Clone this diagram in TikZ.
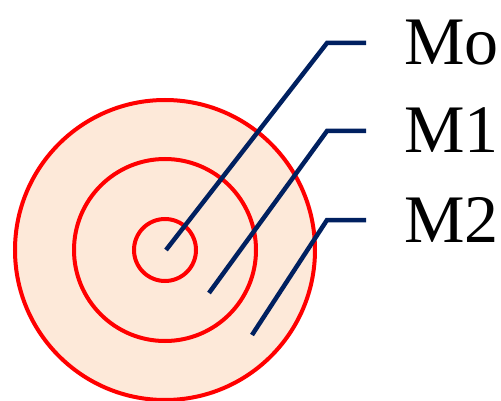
\documentclass[tikz,border=0pt]{standalone}
\usepackage{fontspec}
\setmainfont{Liberation Serif}
\usetikzlibrary{positioning}
\definecolor{RingRed}{HTML}{FF0000}
\definecolor{RingFill}{HTML}{FDE9D9}
\definecolor{LeaderNavy}{HTML}{002060}
\tikzset{
    % Ring styles
    ring/.style={
        circle,
        draw=RingRed,
        line width=4pt,
        inner sep=0pt
    },
    % Leader line style
    leader/.style={
        draw=LeaderNavy,
        line width=4.5pt
    },
    % Label style
    layerlabel/.style={
        font=\fontsize{68}{80}\selectfont,
        anchor=base west,
        inner sep=0pt
    }
}
\begin{document}
\begin{tikzpicture}[x=1pt,y=-1pt]
    \useasboundingbox (0,0) rectangle (501,401);

    % Rings
    \node[ring,fill=RingFill,minimum size=300pt] (outer) at (165,250) {};
    \node[ring,minimum size=182pt] (middle) at (165,250) {};
    \node[ring,minimum size=62pt] (inner) at (165,250) {};

    % Labels
    \node[layerlabel] (labMo) at (404,65) {Mo};
    \node[layerlabel] (labMone) at (404,153) {M1};
    \node[layerlabel] (labMtwo) at (404,242) {M2};

    % Leader points
    \coordinate (tipMo) at (166,250);
    \coordinate (bendMo) at (327,43);
    \coordinate (endMo) at (366,43);
    \coordinate (tipMone) at (209,293);
    \coordinate (bendMone) at (327,131);
    \coordinate (endMone) at (366,131);
    \coordinate (tipMtwo) at (252,335);
    \coordinate (bendMtwo) at (327,220);
    \coordinate (endMtwo) at (366,220);

    % Leaders
    \draw[leader] (tipMo) -- (bendMo) -- (endMo);
    \draw[leader] (tipMone) -- (bendMone) -- (endMone);
    \draw[leader] (tipMtwo) -- (bendMtwo) -- (endMtwo);
\end{tikzpicture}
\end{document}
